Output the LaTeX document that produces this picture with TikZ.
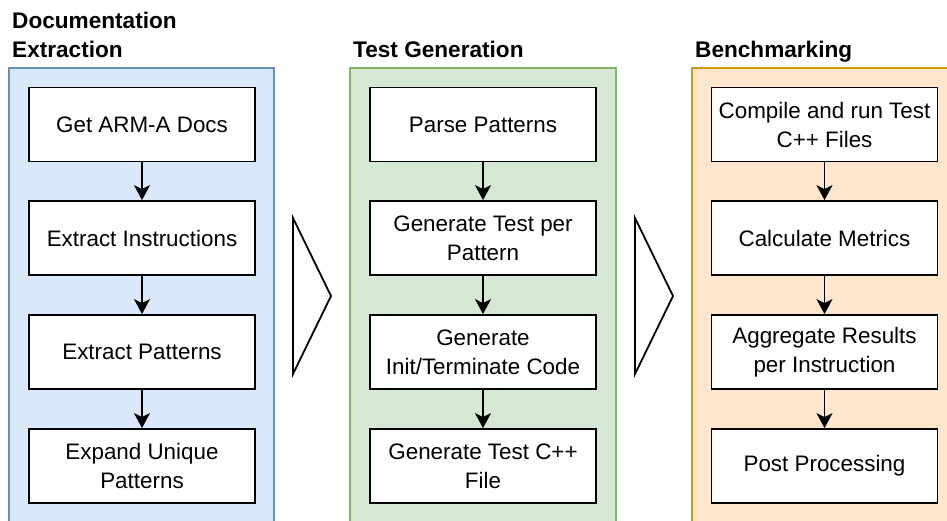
\documentclass[tikz,border=0pt]{standalone}
\usepackage{fontspec}
\setmainfont{Liberation Sans}
\usetikzlibrary{arrows.meta}
\definecolor{docfill}{HTML}{DAE8FC}
\definecolor{docline}{HTML}{6C8EBF}
\definecolor{genfill}{HTML}{D5E8D4}
\definecolor{genline}{HTML}{82B366}
\definecolor{benfill}{HTML}{FFE6CC}
\definecolor{benline}{HTML}{D79B00}
\begin{document}
\begin{tikzpicture}[x=1pt,y=-1pt,
  panel/.style={line width=1.3pt},
  stepbox/.style={draw=black, line width=1.8pt, fill=white,
    minimum width=226pt, minimum height=74pt, inner sep=0pt,
    align=center, font=\fontsize{22.4}{29}\selectfont},
  stagetitle/.style={font=\fontsize{22.6}{28.5}\selectfont\bfseries,
    anchor=base west, inner sep=0pt, align=left},
  flow/.style={-{Stealth[length=15pt,width=16pt,inset=4pt]}, line width=1.6pt},
  chevron/.style={draw=black, line width=1.8pt, fill=white, line join=miter}]
\useasboundingbox (0,0) rectangle (947,521);
\clip (0,0) rectangle (947,521);

% stage panels
\draw[panel, draw=docline, fill=docfill] (9,68) rectangle (274,540);
\draw[panel, draw=genline, fill=genfill] (350,68) rectangle (616,540);
\draw[panel, draw=benline, fill=benfill] (692,68) rectangle (960,540);

% stage titles
\node[stagetitle] (t1) at (12,29) {Documentation};
\node[stagetitle] (t1b) at (12,58) {Extraction};
\node[stagetitle] (t2) at (353,58) {Test Generation};
\node[stagetitle] (t3) at (695,58) {Benchmarking};

% documentation extraction steps
\node[stepbox] (a1) at (142,124.5) {Get ARM-A Docs};
\node[stepbox] (a2) at (142,238) {Extract Instructions};
\node[stepbox] (a3) at (142,352) {Extract Patterns};
\node[stepbox] (a4) at (142,466) {Expand Unique\\Patterns};

% test generation steps
\node[stepbox] (b1) at (483,124.5) {Parse Patterns};
\node[stepbox] (b2) at (483,238) {Generate Test per\\Pattern};
\node[stepbox] (b3) at (483,352) {Generate\\Init/Terminate Code};
\node[stepbox] (b4) at (483,466) {Generate Test C++\\File};

% benchmarking steps
\node[stepbox] (c1) at (824.5,124.5) {Compile and run Test\\C++ Files};
\node[stepbox] (c2) at (824.5,238) {Calculate Metrics};
\node[stepbox] (c3) at (824.5,352) {Aggregate Results\\per Instruction};
\node[stepbox] (c4) at (824.5,466) {Post Processing};

% flow within each stage
\foreach \s in {a,b,c}{
  \draw[flow] (\s1) -- (\s2);
  \draw[flow] (\s2) -- (\s3);
  \draw[flow] (\s3) -- (\s4);
}

% transitions between stages
\draw[chevron] (293,218) -- (331,296) -- (293,374) -- cycle;
\draw[chevron] (635,218) -- (673,296) -- (635,374) -- cycle;
\end{tikzpicture}
\end{document}
